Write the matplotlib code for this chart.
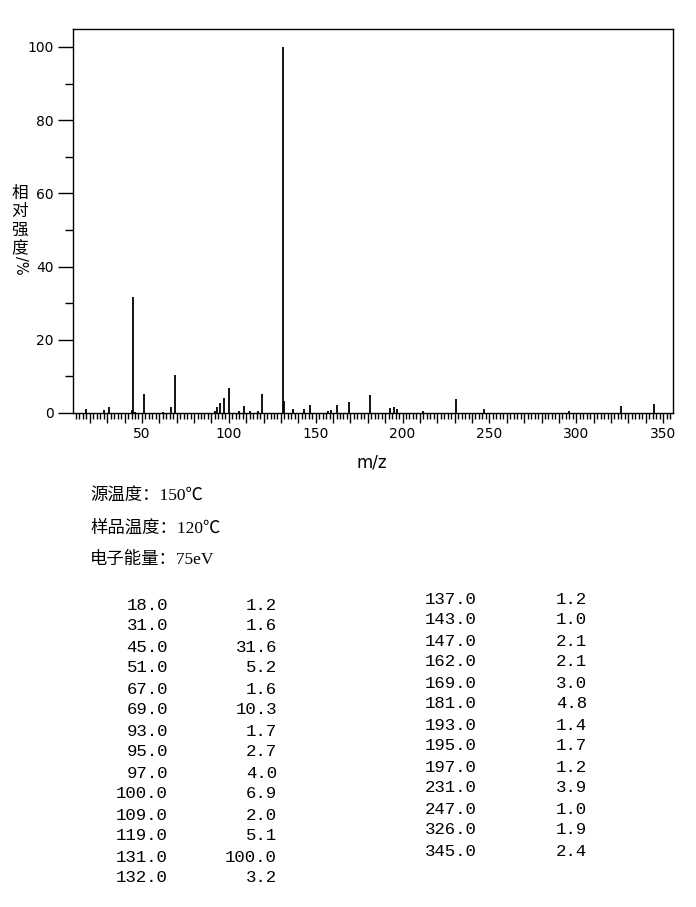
import matplotlib
matplotlib.use("Agg")
import matplotlib.pyplot as plt
from matplotlib.ticker import MultipleLocator, FuncFormatter

# listed peaks (m/z, relative intensity %)
mz_left = [18.0, 31.0, 45.0, 51.0, 67.0, 69.0, 93.0, 95.0, 97.0, 100.0, 109.0, 119.0, 131.0, 132.0]
int_left = [1.2, 1.6, 31.6, 5.2, 1.6, 10.3, 1.7, 2.7, 4.0, 6.9, 2.0, 5.1, 100.0, 3.2]
mz_right = [137.0, 143.0, 147.0, 162.0, 169.0, 181.0, 193.0, 195.0, 197.0, 231.0, 247.0, 326.0, 345.0]
int_right = [1.2, 1.0, 2.1, 2.1, 3.0, 4.8, 1.4, 1.7, 1.2, 3.9, 1.0, 1.9, 2.4]

# weak peaks seen in the spectrum but not listed
mz_minor = [28, 44, 46, 62, 92, 106, 112, 117, 157, 159, 212, 296]
int_minor = [0.8, 0.8, 0.4, 0.4, 0.5, 0.5, 0.6, 0.5, 0.5, 0.8, 0.5, 0.5]

conditions = ["源温度：150℃", "样品温度：120℃", "电子能量：75eV"]

W, H = 696, 907
fig = plt.figure(figsize=(W / 100, H / 100), dpi=100)
ax = fig.add_axes([73 / W, 1 - 413 / H, 600 / W, 384 / H])

mz_all = mz_left + mz_right + mz_minor
int_all = int_left + int_right + int_minor
ax.vlines(mz_all, 0, int_all, colors="black", linewidth=1.3)

ax.set_xlim(10.3, 355.7)
ax.set_ylim(0, 104.9)

ax.xaxis.set_major_locator(MultipleLocator(10))
ax.xaxis.set_minor_locator(MultipleLocator(2))
ax.xaxis.set_major_formatter(FuncFormatter(lambda v, p: f"{int(v)}" if int(round(v)) % 50 == 0 else ""))
ax.yaxis.set_major_locator(MultipleLocator(20))
ax.yaxis.set_minor_locator(MultipleLocator(10))

ax.tick_params(axis="x", which="major", length=7, width=1, labelsize=10, pad=3)
ax.tick_params(axis="x", which="minor", length=4, width=1)
ax.tick_params(axis="y", which="major", length=11, width=1, labelsize=10, pad=3)
ax.tick_params(axis="y", which="minor", length=6, width=1)
for s in ax.spines.values():
    s.set_linewidth(1)

fig.text(372 / W, 1 - 462 / H, "m/z", ha="center", va="center", fontsize=12)

# vertical y label
cjk = ["Noto Sans CJK SC", "DejaVu Sans"]
for i, ch in enumerate("相对强度"):
    fig.text(20 / W, 1 - (193 + i * 18.5) / H, ch, ha="center", va="center",
             fontsize=12, family=cjk)
fig.text(20 / W, 1 - 265 / H, "/%", ha="center", va="center", fontsize=10.5,
         rotation=270)

serif_cjk = ["Liberation Serif", "Noto Sans CJK SC", "DejaVu Sans"]
for i, t in enumerate(conditions):
    fig.text(90 / W, 1 - (497 + i * 31.5) / H, t, ha="left", va="center",
             fontsize=12.5, family=serif_cjk)

mono = "Liberation Mono"
for i, (m, v) in enumerate(zip(mz_left, int_left)):
    y = 1 - (605 + i * 21) / H
    fig.text(168 / W, y, f"{m:.1f}", ha="right", va="center", family=mono, fontsize=12.5)
    fig.text(277 / W, y, f"{v:.1f}", ha="right", va="center", family=mono, fontsize=12.5)
for i, (m, v) in enumerate(zip(mz_right, int_right)):
    y = 1 - (599 + i * 21) / H
    fig.text(477 / W, y, f"{m:.1f}", ha="right", va="center", family=mono, fontsize=12.5)
    fig.text(587 / W, y, f"{v:.1f}", ha="right", va="center", family=mono, fontsize=12.5)

fig.savefig("out.png", dpi=100)
